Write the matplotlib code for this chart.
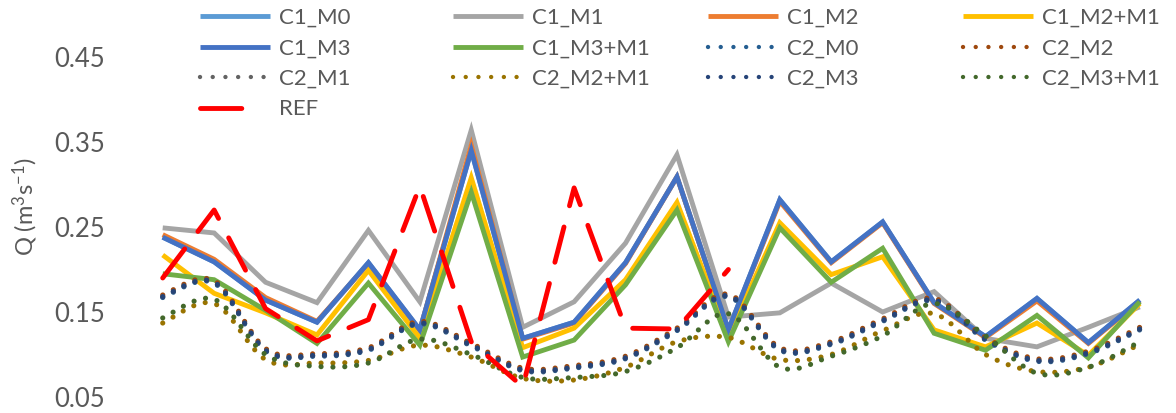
import numpy as np
import matplotlib
matplotlib.use("Agg")
import matplotlib.pyplot as plt
from matplotlib.path import Path
from matplotlib.patches import PathPatch
from matplotlib.lines import Line2D

plt.rcParams['font.family'] = ['Lato', 'DejaVu Sans']
plt.rcParams['mathtext.fontset'] = 'custom'
plt.rcParams['mathtext.rm'] = 'Lato'
plt.rcParams['mathtext.it'] = 'Lato:italic'

# ---- data -------------------------------------------------------------
steps = np.arange(20)

c1_m0 = [0.238, 0.209, 0.164, 0.138, 0.208, 0.129, 0.340, 0.119, 0.138, 0.208,
         0.309, 0.129, 0.282, 0.209, 0.256, 0.161, 0.121, 0.166, 0.114, 0.164]
c1_m1 = [0.249, 0.243, 0.185, 0.161, 0.246, 0.162, 0.364, 0.132, 0.162, 0.231,
         0.335, 0.144, 0.149, 0.184, 0.150, 0.174, 0.119, 0.109, 0.132, 0.156]
c1_m2 = [0.241, 0.212, 0.167, 0.139, 0.207, 0.128, 0.346, 0.118, 0.137, 0.207,
         0.309, 0.128, 0.280, 0.208, 0.255, 0.160, 0.120, 0.163, 0.113, 0.163]
c1_m2_m1 = [0.217, 0.172, 0.149, 0.123, 0.199, 0.119, 0.308, 0.108, 0.131, 0.188,
            0.279, 0.121, 0.255, 0.194, 0.215, 0.129, 0.109, 0.137, 0.099, 0.160]
c1_m3 = [0.238, 0.209, 0.164, 0.138, 0.208, 0.129, 0.340, 0.119, 0.138, 0.208,
         0.309, 0.129, 0.282, 0.209, 0.256, 0.161, 0.121, 0.166, 0.114, 0.164]
c1_m3_m1 = [0.195, 0.188, 0.152, 0.113, 0.184, 0.111, 0.291, 0.097, 0.117, 0.182,
            0.270, 0.115, 0.249, 0.185, 0.225, 0.125, 0.105, 0.146, 0.096, 0.162]

c2_m0 = [0.167, 0.184, 0.104, 0.098, 0.105, 0.136, 0.110, 0.081, 0.084, 0.095,
         0.128, 0.168, 0.105, 0.112, 0.139, 0.163, 0.117, 0.092, 0.101, 0.129]
c2_m2 = [0.170, 0.187, 0.107, 0.101, 0.108, 0.139, 0.113, 0.084, 0.087, 0.098,
         0.131, 0.171, 0.108, 0.115, 0.142, 0.166, 0.120, 0.095, 0.104, 0.132]
c2_m1 = [0.168, 0.185, 0.105, 0.099, 0.106, 0.137, 0.111, 0.082, 0.085, 0.096,
         0.129, 0.169, 0.106, 0.113, 0.140, 0.164, 0.118, 0.093, 0.102, 0.130]
c2_m2_m1 = [0.137, 0.160, 0.094, 0.090, 0.093, 0.111, 0.097, 0.072, 0.070, 0.085,
            0.115, 0.120, 0.094, 0.100, 0.128, 0.148, 0.100, 0.080, 0.085, 0.112]
c2_m3 = [0.168, 0.185, 0.105, 0.099, 0.106, 0.137, 0.111, 0.082, 0.085, 0.096,
         0.129, 0.169, 0.106, 0.113, 0.140, 0.164, 0.118, 0.093, 0.102, 0.130]
c2_m3_m1 = [0.143, 0.165, 0.100, 0.086, 0.090, 0.118, 0.100, 0.073, 0.073, 0.080,
            0.108, 0.148, 0.085, 0.098, 0.122, 0.160, 0.122, 0.078, 0.085, 0.115]

ref = [0.190, 0.270, 0.154, 0.116, 0.141, 0.298, 0.115, 0.062, 0.296, 0.131,
       0.130, 0.200]

y_ticks = [0.05, 0.15, 0.25, 0.35, 0.45]
y_tick_labels = ["0.05", "0.15", "0.25", "0.35", "0.45"]

# ---- styles -----------------------------------------------------------
TXT = '#595959'
SOLID_LW = 3.5
DOT_LW = 3.7
DOT = (0, (0.01, 2.3))

series = [
    ("C1_M0", c1_m0, '#5B9BD5', 'solid'),
    ("C1_M1", c1_m1, '#A5A5A5', 'solid'),
    ("C1_M2", c1_m2, '#ED7D31', 'solid'),
    ("C1_M2+M1", c1_m2_m1, '#FFC000', 'solid'),
    ("C1_M3", c1_m3, '#4472C4', 'solid'),
    ("C1_M3+M1", c1_m3_m1, '#70AD47', 'solid'),
    ("C2_M0", c2_m0, '#255E91', 'dot'),
    ("C2_M2", c2_m2, '#9E480E', 'dot'),
    ("C2_M1", c2_m1, '#636363', 'dot'),
    ("C2_M2+M1", c2_m2_m1, '#997300', 'dot'),
    ("C2_M3", c2_m3, '#264478', 'dot'),
    ("C2_M3+M1", c2_m3_m1, '#43682B', 'dot'),
    ("REF", ref, '#FF0000', 'dash'),
]


def smooth_path(xs, ys):
    """Cubic Bezier path through the points (Catmull-Rom tangents)."""
    pts = np.column_stack([xs, ys]).astype(float)
    n = len(pts)
    verts = [pts[0]]
    codes = [Path.MOVETO]
    for i in range(n - 1):
        p0 = pts[i - 1] if i > 0 else pts[i]
        p1 = pts[i]
        p2 = pts[i + 1]
        p3 = pts[i + 2] if i + 2 < n else pts[i + 1]
        verts += [p1 + (p2 - p0) / 6.0, p2 - (p3 - p1) / 6.0, p2]
        codes += [Path.CURVE4] * 3
    return Path(verts, codes)


W, H = 1176, 413
fig = plt.figure(figsize=(W / 100, H / 100), dpi=100)
ax = fig.add_axes([137 / W, 16 / H, 1028.5 / W, 340 / H])

handles = {}
for z, (name, vals, color, kind) in enumerate(series):
    x = steps[:len(vals)]
    if kind == 'solid':
        ln, = ax.plot(x, vals, color=color, lw=SOLID_LW, solid_joinstyle='miter',
                      solid_capstyle='butt', zorder=2 + z)
        handles[name] = ln
    elif kind == 'dot':
        patch = PathPatch(smooth_path(x, vals), fill=False, edgecolor=color,
                          lw=DOT_LW, linestyle=DOT, capstyle='round',
                          joinstyle='round', zorder=2 + z)
        ax.add_patch(patch)
        handles[name] = Line2D([], [], color=color, lw=DOT_LW * 0.85,
                               linestyle=(0, (0.01, 2.9)),
                               dash_capstyle='round')
    else:
        ax.plot(x, vals, color=color, lw=SOLID_LW, linestyle=(0, (7.5, 4.5)),
                dash_capstyle='round', dash_joinstyle='round', zorder=2 + z)
        handles[name] = Line2D([], [], color=color, lw=SOLID_LW,
                               linestyle=(0, (8.5, 12)), dash_capstyle='round')

ax.set_xlim(-0.5, 19.5)
ax.set_ylim(0.05, 0.45)
ax.set_yticks(y_ticks)
ax.set_yticklabels(y_tick_labels)
ax.set_xticks([])
ax.tick_params(axis='y', length=0, pad=23, labelsize=18.5, labelcolor=TXT)
for sp in ax.spines.values():
    sp.set_visible(False)

ax.set_ylabel('Q (m$^{3}$s$^{-1}$)', fontsize=17, color=TXT)
ax.yaxis.set_label_coords(-0.094, 0.56)

# legend laid out in four columns, filled row by row
columns = [
    ["C1_M0", "C1_M3", "C2_M1", "REF"],
    ["C1_M1", "C1_M3+M1", "C2_M2+M1"],
    ["C1_M2", "C2_M0", "C2_M3"],
    ["C1_M2+M1", "C2_M2", "C2_M3+M1"],
]
col_x = [200, 453, 708, 963]
LEG_FS = 16
fs_px = LEG_FS * 100 / 72
for names, cx in zip(columns, col_x):
    fig.legend([handles[n] for n in names], names, loc='upper left',
               bbox_to_anchor=(cx / W, 1 - 8 / H), frameon=False,
               fontsize=LEG_FS, labelcolor=TXT, handlelength=70 / fs_px,
               handletextpad=9 / fs_px, labelspacing=0.47, borderpad=0,
               borderaxespad=0)

fig.savefig("out.png", dpi=100)
